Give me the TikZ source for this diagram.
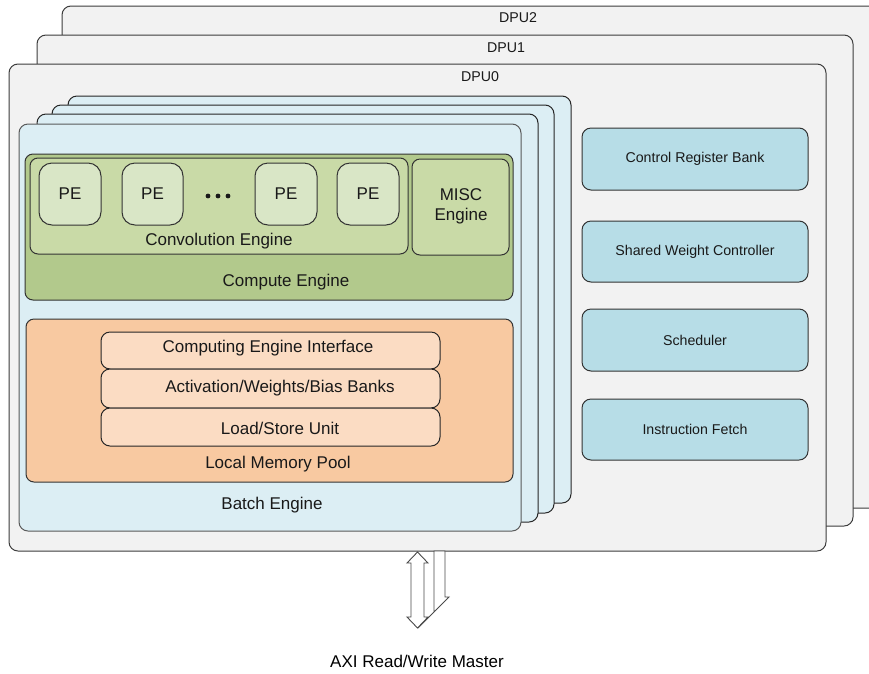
\documentclass[tikz,border=0pt]{standalone}
\usepackage{fontspec}
\setmainfont{Liberation Sans}
\definecolor{dpufill}{HTML}{F2F2F2}
\definecolor{dpuline}{HTML}{3C3C3C}
\definecolor{batchfill}{HTML}{DCEEF4}
\definecolor{computefill}{HTML}{B2C98C}
\definecolor{convfill}{HTML}{C9DAA7}
\definecolor{pefill}{HTML}{D9E6C6}
\definecolor{memfill}{HTML}{F8C9A1}
\definecolor{memitem}{HTML}{FBDCC3}
\definecolor{ctrlfill}{HTML}{B7DDE7}
\definecolor{arrowline}{HTML}{4A4A4A}
\tikzset{
  blk/.style={draw=dpuline, line width=1pt, rounded corners=9pt, inner sep=0pt, outer sep=0pt},
  dpubox/.style={blk, fill=dpufill},
  batchbox/.style={blk, draw=black!85, fill=batchfill},
  computebox/.style={blk, draw=black!80, fill=computefill, rounded corners=8pt},
  convbox/.style={blk, draw=black!80, fill=convfill, rounded corners=8pt},
  pebox/.style={blk, draw=black!80, fill=pefill, rounded corners=13pt},
  membox/.style={blk, draw=black!80, fill=memfill, rounded corners=8pt},
  memrow/.style={blk, draw=black!85, fill=memitem, rounded corners=9pt},
  ctrlbox/.style={blk, draw=black!80, fill=ctrlfill, rounded corners=9pt},
  biglbl/.style={inner sep=0pt, font=\fontsize{17}{20}\selectfont, text=black!90},
  smalllbl/.style={inner sep=0pt, font=\fontsize{14.2}{17}\selectfont, text=black!90},
  buslbl/.style={inner sep=0pt, font=\fontsize{17}{20}\selectfont, text=black},
  busarrow/.style={draw=arrowline, line width=0.9pt, fill=white, line join=miter},
}
% rounded block from corner (x1,y1) to corner (x2,y2)
\newcommand\blockat[6]{%
  \node[#1, minimum width={#4-#2}, minimum height={#5-#3}] (#6)
    at ({(#2+#4)/2},{(#3+#5)/2}) {};}
\begin{document}
\begin{tikzpicture}[x=1pt,y=-1pt]
\useasboundingbox (0,0) rectangle (869,673);
\clip (0,0) rectangle (869,673);

% the three DPU cores, back to front
\blockat{dpubox}{62}{6}{885}{508}{dpu2}
\blockat{dpubox}{37}{35}{853}{526}{dpu1}
\blockat{dpubox}{9}{64}{826}{551}{dpu0}
\node[smalllbl] (dpu2lbl) at (518,18) {DPU2};
\node[smalllbl] (dpu1lbl) at (506,48) {DPU1};
\node[smalllbl] (dpu0lbl) at (480,77) {DPU0};

% stacked batch engines
\blockat{batchbox}{68}{96}{571}{503}{batch3}
\blockat{batchbox}{52}{105}{554}{513}{batch2}
\blockat{batchbox}{37}{114}{538}{522}{batch1}
\blockat{batchbox, draw=black!65}{19}{124}{521}{531}{batch0}

% compute engine
\blockat{computebox}{25}{154}{513}{300}{compute}
\blockat{convbox}{30}{158}{408}{254}{conv}
\blockat{pebox}{39}{163}{101}{225}{pe1}
\blockat{pebox}{122}{163}{183}{225}{pe2}
\blockat{pebox}{255}{163}{317}{225}{pe3}
\blockat{pebox}{337}{163}{399}{225}{pe4}
\blockat{convbox}{412}{159}{509}{255}{misc}
\foreach \n in {pe1,pe2,pe3,pe4}{\node[biglbl] at (\n) {PE};}
\foreach \dx in {208,218,228}{\fill[black!90] (\dx,196) circle (2.4pt);}
\node[biglbl] (convlbl) at (219,241) {Convolution Engine};
\node[biglbl, align=center, font=\fontsize{17}{20}\selectfont] (misclbl) at (461,206) {MISC\\Engine};
\node[biglbl] (computelbl) at (286,282) {Compute Engine};

% local memory pool
\blockat{membox}{26}{319}{513}{482}{mem}
\blockat{memrow}{101}{332}{440}{369}{cei}
\blockat{memrow}{101}{369}{440}{408}{banks}
\blockat{memrow}{101}{408}{440}{446}{lsu}
\node[biglbl] at (268,348) {Computing Engine Interface};
\node[biglbl] at (280,388) {Activation/Weights/Bias Banks};
\node[biglbl] at (280,428) {Load/Store Unit};
\node[biglbl] (memlbl) at (278,464) {Local Memory Pool};
\node[biglbl] (batchlbl) at (272,505) {Batch Engine};

% shared control blocks
\blockat{ctrlbox}{582}{128}{808}{190}{crb}
\blockat{ctrlbox}{582}{221}{808}{282}{swc}
\blockat{ctrlbox}{582}{309}{808}{371}{sched}
\blockat{ctrlbox}{582}{399}{808}{460}{ifetch}
\node[smalllbl] at (crb) {Control Register Bank};
\node[smalllbl] at (swc) {Shared Weight Controller};
\node[smalllbl] at (sched) {Scheduler};
\node[smalllbl] at (ifetch) {Instruction Fetch};

% AXI master bus
\node[buslbl] (axi) at (417,661) {AXI Read/Write Master};
\coordinate (wr) at (dpu0.south -| 439.5,0);
\coordinate (rw) at (dpu0.south -| 417.5,0);
\path[busarrow] (wr) ++(-5.5,0) -- ++(11,0) -- ++(0,46) -- ++(4,0)
  -- ++(-31,31) -- ++(16,-16) -- cycle;
\path[busarrow] (rw) ++(0,1) -- ++(10.5,11) -- ++(-4,0) -- ++(0,54)
  -- ++(4,0) -- ++(-10.5,11) -- ++(-10.5,-11) -- ++(4,0) -- ++(0,-54)
  -- ++(-4,0) -- cycle;
\end{tikzpicture}
\end{document}
